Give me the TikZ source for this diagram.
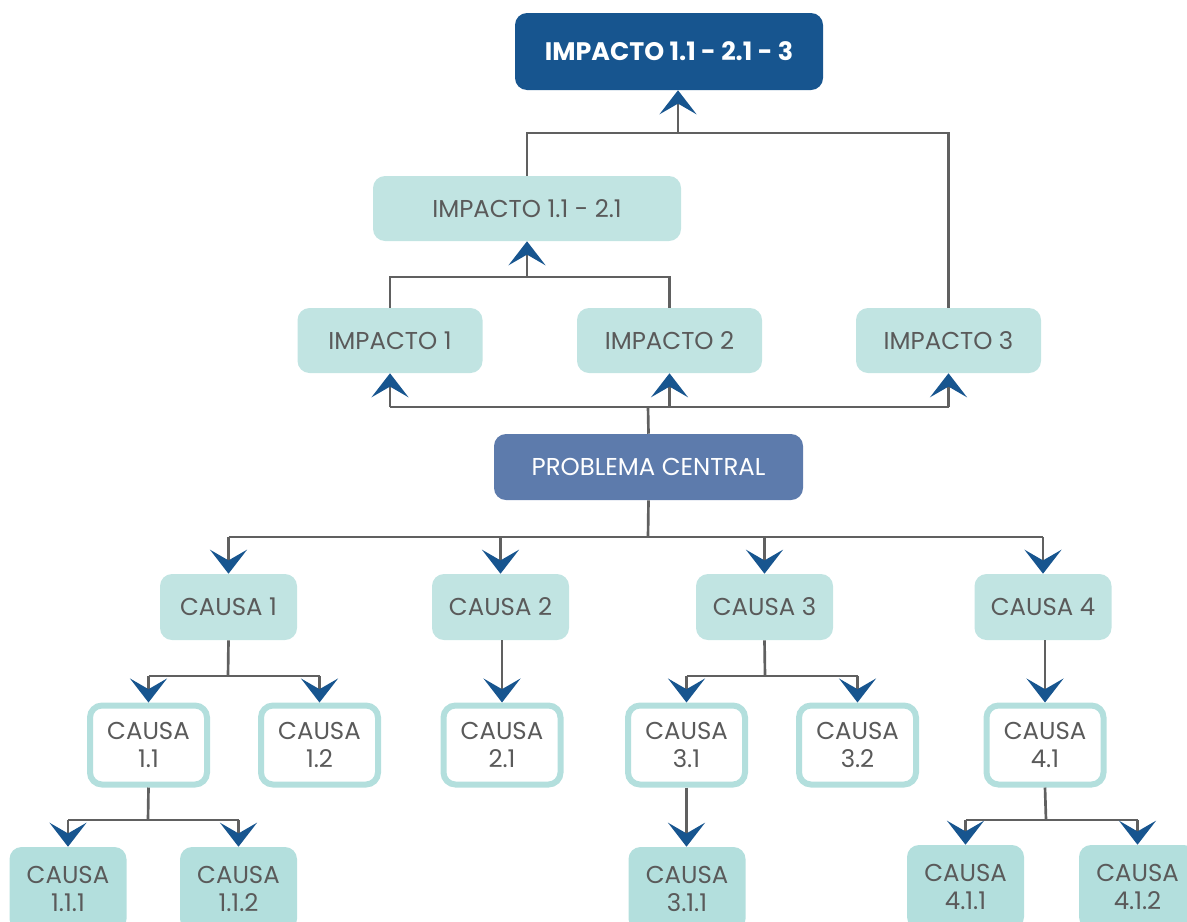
\documentclass[tikz,border=0pt]{standalone}
\usepackage{fontspec}
\setmainfont{Poppins}
\usetikzlibrary{arrows.meta}
\definecolor{topblue}{HTML}{17558F}
\definecolor{probblue}{HTML}{5D7BAC}
\definecolor{lightbox}{HTML}{C1E4E2}
\definecolor{causebox}{HTML}{B3DFDD}
\definecolor{txtgray}{HTML}{5A5A5A}
\definecolor{linegray}{HTML}{606060}
\tikzset{
  basebox/.style={rounded corners=9pt, inner sep=0pt, align=center, text=txtgray,
    font=\fontsize{18.3}{21.5}\selectfont},
  topbox/.style={basebox, fill=topblue, text=white, minimum width=231pt, minimum height=57.75pt,
    font=\bfseries\fontsize{19}{21}\selectfont},
  midbox/.style={basebox, fill=lightbox, minimum width=231pt, minimum height=48.75pt},
  impbox/.style={basebox, fill=lightbox, minimum width=138.75pt, minimum height=48.75pt},
  probbox/.style={basebox, fill=probblue, text=white, minimum width=231.75pt, minimum height=49.5pt},
  causebx/.style={basebox, fill=lightbox, minimum width=102.75pt, minimum height=49.5pt},
  outbox/.style={basebox, draw=causebox, line width=4.5pt, fill=white, minimum width=87.75pt, minimum height=59.25pt},
  leafbox/.style={basebox, fill=causebox, minimum width=87.75pt, minimum height=63pt},
  conn/.style={draw=linegray, line width=2pt},
  arr/.style={conn, -{Stealth[length=18pt,width=27.75pt,inset=8pt,color=topblue]}}
}
\begin{document}
\begin{tikzpicture}[x=0.75pt,y=-0.75pt]
\useasboundingbox (0,0) rectangle (1187,921);
\clip (0,0) rectangle (1187,921);
% nodes
\node[topbox] (top) at (669,51.5) {IMPACTO 1.1 - 2.1 - 3};
\node[midbox] (i1121) at (527,208.5) {IMPACTO 1.1 - 2.1};
\node[impbox] (i1) at (390,340.5) {IMPACTO 1};
\node[impbox] (i2) at (669.5,340.5) {IMPACTO 2};
\node[impbox] (i3) at (948.5,340.5) {IMPACTO 3};
\node[probbox] (pc) at (648.5,467) {PROBLEMA CENTRAL};
\node[causebx] (c1) at (228.5,607) {CAUSA 1};
\node[causebx] (c2) at (500.5,607) {CAUSA 2};
\node[causebx] (c3) at (764.5,607) {CAUSA 3};
\node[causebx] (c4) at (1043,607) {CAUSA 4};
\node[outbox] (c11) at (148.5,745) {CAUSA\\1.1};
\node[outbox] (c12) at (319.5,745) {CAUSA\\1.2};
\node[outbox] (c21) at (502,745) {CAUSA\\2.1};
\node[outbox] (c31) at (686.5,745) {CAUSA\\3.1};
\node[outbox] (c32) at (857.5,745) {CAUSA\\3.2};
\node[outbox] (c41) at (1045,745) {CAUSA\\4.1};
\node[leafbox] (c111) at (68,889) {CAUSA\\1.1.1};
\node[leafbox] (c112) at (238.5,889) {CAUSA\\1.1.2};
\node[leafbox] (c311) at (687,889) {CAUSA\\3.1.1};
\node[leafbox] (c411) at (965.5,887) {CAUSA\\4.1.1};
\node[leafbox] (c412) at (1137.5,887) {CAUSA\\4.1.2};
% junction points
\coordinate (t1) at (678,133);
\coordinate (t2) at (527,277);
\coordinate (p1) at (648,407);
\coordinate (p2) at (648,537);
\coordinate (q1) at (228,676);
\coordinate (q3) at (765,676);
\coordinate (q11) at (148,820);
\coordinate (q41) at (1046,820);
% upper connectors
\draw[conn] (i1121.north) |- (t1) -| (i3.north);
\draw[arr] (t1) -- (top.south -| t1);
\draw[conn] (i1.north) |- (t2) -| (i2.north);
\draw[arr] (t2) -- (i1121.south);
\draw[conn] (pc.north) -- (p1);
\draw[conn] (i1.south |- p1) -- (i3.south |- p1);
\draw[arr] (i1.south |- p1) -- (i1.south);
\draw[arr] (i2.south |- p1) -- (i2.south);
\draw[arr] (i3.south |- p1) -- (i3.south);
% lower connectors
\draw[conn] (pc.south) -- (p2);
\draw[conn] (c1.north |- p2) -- (c4.north |- p2);
\draw[arr] (c1.north |- p2) -- (c1.north);
\draw[arr] (c2.north |- p2) -- (c2.north);
\draw[arr] (c3.north |- p2) -- (c3.north);
\draw[arr] (c4.north |- p2) -- (c4.north);
\draw[conn] (c1.south) -- (q1);
\draw[conn] (c11.north |- q1) -- (c12.north |- q1);
\draw[arr] (c11.north |- q1) -- (c11.north);
\draw[arr] (c12.north |- q1) -- (c12.north);
\draw[arr] (c21.north |- c2.south) -- (c21.north);
\draw[conn] (c3.south) -- (q3);
\draw[conn] (c31.north |- q3) -- (c32.north |- q3);
\draw[arr] (c31.north |- q3) -- (c31.north);
\draw[arr] (c32.north |- q3) -- (c32.north);
\draw[arr] (c41.north |- c4.south) -- (c41.north);
\draw[conn] (c11.south) -- (q11);
\draw[conn] (c111.north |- q11) -- (c112.north |- q11);
\draw[arr] (c111.north |- q11) -- (c111.north);
\draw[arr] (c112.north |- q11) -- (c112.north);
\draw[arr] (c31.south) -- (c311.north -| c31.south);
\draw[conn] (c41.south) -- (q41);
\draw[conn] (c411.north |- q41) -- (c412.north |- q41);
\draw[arr] (c411.north |- q41) -- (c411.north);
\draw[arr] (c412.north |- q41) -- (c412.north);
\end{tikzpicture}
\end{document}
